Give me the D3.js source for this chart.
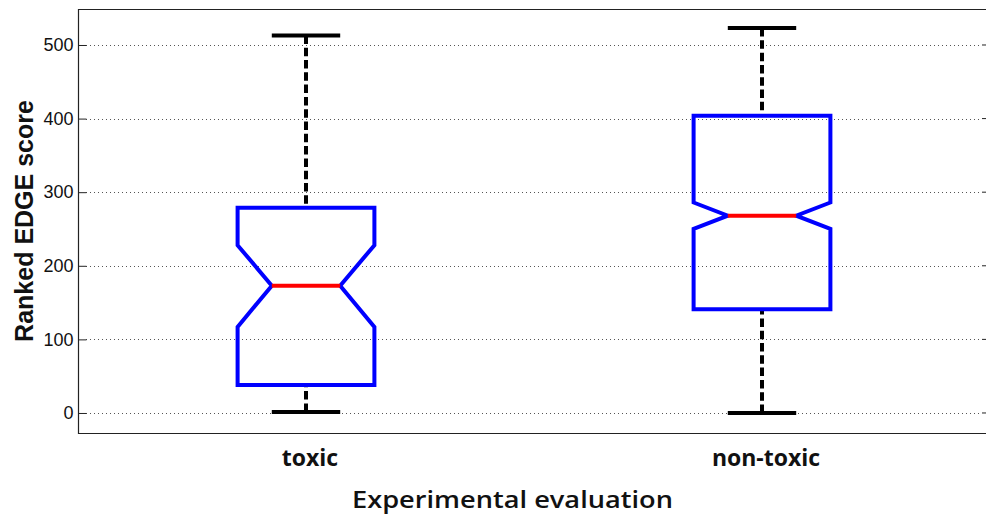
<!DOCTYPE html>
<html>
<head>
<meta charset="utf-8">
<script src="https://cdn.jsdelivr.net/npm/d3@7"></script>
<style>
  body { margin: 0; background: #fff; overflow: hidden; }
  svg { display: block; overflow: hidden; }
</style>
</head>
<body>
<svg></svg>
<script>
// box plot values
const categories = ["toxic", "non-toxic"];
const whiskerLow = [1.5, 0];
const q1 = [38, 141];
const notchLow = [117, 250];
const median = [173, 268];
const notchHigh = [228, 286];
const q3 = [279, 404];
const whiskerHigh = [513, 523];
const yTicks = [0, 100, 200, 300, 400, 500];

let width = 986;
let height = 519;
let padLeft = 78, padRight = 990, padTop = 9, padBottom = 433;
let boxHalf = 0.15;
let notchHalf = 0.075;

let svg = d3.select('svg')
            .attr('width', width)
            .attr('height', height);

const xScale = d3.scaleLinear()
                 .domain([0.5, 2.5])
                 .range([padLeft, padRight]);

const yScale = d3.scaleLinear()
                 .domain([-27.2, 548.9])
                 .range([padBottom, padTop]);

const line = d3.line()
               .x((d) => xScale(d[0]))
               .y((d) => yScale(d[1]));

// dotted grid
svg.append('g')
   .selectAll('line')
   .data(yTicks)
   .enter()
   .append('line')
   .attr('x1', padLeft + 8)
   .attr('x2', padRight - 8)
   .attr('y1', (d) => Math.round(yScale(d)) + 0.5)
   .attr('y2', (d) => Math.round(yScale(d)) + 0.5)
   .attr('stroke', '#555')
   .attr('stroke-dasharray', '1,3');

// left axis with inward ticks
const yAxisLeft = d3.axisLeft(yScale)
                    .tickValues(yTicks)
                    .tickSizeInner(-8)
                    .tickSizeOuter(0)
                    .tickPadding(5);

const gy = svg.append('g')
              .attr('transform', "translate(" + (padLeft + 0.5) + ", 0)")
              .call(yAxisLeft);
gy.select('.domain').remove();
gy.selectAll('.tick line').attr('stroke', '#222');
gy.selectAll('.tick text')
  .attr('font-family', 'Liberation Sans, Arial, sans-serif')
  .attr('font-size', 18)
  .attr('fill', '#111');

// right ticks
svg.append('g')
   .selectAll('line')
   .data(yTicks)
   .enter()
   .append('line')
   .attr('x1', padRight - 8)
   .attr('x2', padRight)
   .attr('y1', (d) => yScale(d))
   .attr('y2', (d) => yScale(d))
   .attr('stroke', '#222');

// frame (right side falls outside the picture)
svg.append('path')
   .attr('d', "M" + padRight + "," + (padTop + 0.5) + "H" + (padLeft + 0.5) +
              "V" + (padBottom + 0.5) + "H" + padRight)
   .attr('fill', 'none')
   .attr('stroke', '#222')
   .attr('stroke-width', 1.2);

const idx = categories.map((c, i) => i);

// whiskers
const wg = svg.append('g');
idx.forEach((i) => {
    let p = i + 1;
    wg.append('path')
      .attr('d', line([[p, whiskerHigh[i]], [p, q3[i]]]))
      .attr('stroke', '#000').attr('stroke-width', 4)
      .attr('stroke-dasharray', '8.5,3.8').attr('fill', 'none');
    wg.append('path')
      .attr('d', line([[p, whiskerLow[i]], [p, q1[i]]]))
      .attr('stroke', '#000').attr('stroke-width', 4)
      .attr('stroke-dasharray', '8.5,3.8').attr('fill', 'none');
    [whiskerHigh[i], whiskerLow[i]].forEach((v) => {
        wg.append('path')
          .attr('d', line([[p - notchHalf, v], [p + notchHalf, v]]))
          .attr('stroke', '#000').attr('stroke-width', 4).attr('fill', 'none');
    });
});

// notched boxes
svg.append('g')
   .selectAll('path')
   .data(idx)
   .enter()
   .append('path')
   .attr('d', (i) => {
       let p = i + 1;
       return line([
           [p - boxHalf, q1[i]], [p - boxHalf, notchLow[i]], [p - notchHalf, median[i]],
           [p - boxHalf, notchHigh[i]], [p - boxHalf, q3[i]], [p + boxHalf, q3[i]],
           [p + boxHalf, notchHigh[i]], [p + notchHalf, median[i]], [p + boxHalf, notchLow[i]],
           [p + boxHalf, q1[i]]
       ]) + "Z";
   })
   .attr('fill', 'none')
   .attr('stroke', '#0000ff')
   .attr('stroke-width', 4)
   .attr('stroke-linejoin', 'miter');

// medians
svg.append('g')
   .selectAll('path')
   .data(idx)
   .enter()
   .append('path')
   .attr('d', (i) => line([[i + 1 - notchHalf, median[i]], [i + 1 + notchHalf, median[i]]]))
   .attr('stroke', '#ff0000')
   .attr('stroke-width', 4);

// category labels
svg.append('g')
   .selectAll('text')
   .data(idx)
   .enter()
   .append('text')
   .attr('x', (i) => xScale(i + 1) + 4)
   .attr('y', 466)
   .attr('text-anchor', 'middle')
   .attr('font-family', 'Open Sans, sans-serif')
   .attr('font-weight', 'bold')
   .attr('font-size', 23)
   .attr('fill', '#111')
   .text((i) => categories[i]);

// axis titles
svg.append('text')
   .attr('x', 352)
   .attr('y', 508)
   .attr('textLength', 321)
   .attr('lengthAdjust', 'spacingAndGlyphs')
   .attr('font-family', 'Open Sans, sans-serif')
   .attr('font-weight', 600)
   .attr('font-size', 24)
   .attr('fill', '#111')
   .text('Experimental evaluation');

svg.append('text')
   .attr('transform', 'translate(33, 221) rotate(-90)')
   .attr('text-anchor', 'middle')
   .attr('font-family', 'Liberation Sans, Arial, sans-serif')
   .attr('font-weight', 'bold')
   .attr('font-size', 25)
   .attr('fill', '#111')
   .text('Ranked EDGE score');
</script>
</body>
</html>
